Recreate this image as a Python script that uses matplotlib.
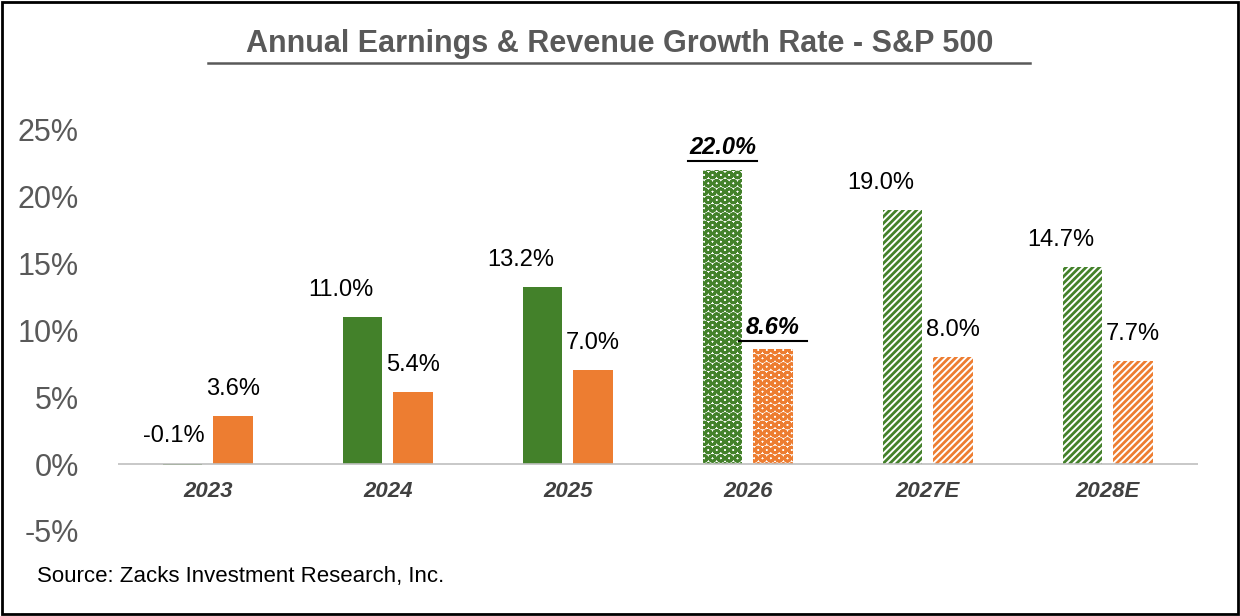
import matplotlib.pyplot as plt
import numpy as np

years = ["2023", "2024", "2025", "2026", "2027E", "2028E"]
earnings = [-0.1, 11.0, 13.2, 22.0, 19.0, 14.7]
revenue = [3.6, 5.4, 7.0, 8.6, 8.0, 7.7]
yticks = [-5, 0, 5, 10, 15, 20, 25]

green = "#43812A"
orange = "#ED7D31"
plt.rcParams['font.family'] = ['Liberation Sans', 'DejaVu Sans']
plt.rcParams['hatch.linewidth'] = 2.0

fig = plt.figure(figsize=(12.4, 6.16), dpi=100)
ax = fig.add_axes([0.095, 0.138, 0.871, 0.652])
x = np.arange(len(years))
w = 0.22
off = 0.14
for i, y in enumerate(years):
    for val, c, dx in [(earnings[i], green, -off), (revenue[i], orange, off)]:
        if i < 3:
            ax.bar(x[i] + dx, val, w, color=c, edgecolor='none')
        elif i == 3:
            ax.bar(x[i] + dx, val, w, facecolor='white', edgecolor=c, hatch='OO', linewidth=0)
        else:
            ax.bar(x[i] + dx, val, w, facecolor='white', edgecolor=c, hatch='/////', linewidth=0)
        lbl = f"{val:.1f}%"
        if i == 3:
            ax.text(x[i] + dx, val + 0.75, lbl, ha='center', va='bottom', fontsize=17,
                    fontweight='bold', style='italic')
            ax.plot([x[i] + dx - 0.19, x[i] + dx + 0.19], [val + 0.6, val + 0.6],
                    color='black', lw=1.5, clip_on=False)
        elif i == 0 and val < 0:
            ax.text(x[i] + dx - 0.05, 1.3, lbl, ha='center', va='bottom', fontsize=17)
        else:
            ax.text(x[i] + dx - (0.12 if dx < 0 else 0.0), val + 1.2, lbl, ha='center',
                    va='bottom', fontsize=17)

ax.set_xlim(-0.5, len(years) - 0.5)
ax.set_ylim(-5, 25)
ax.set_yticks(yticks)
ax.set_yticklabels([f"{t}%" for t in yticks], fontsize=22, color='#595959')
ax.set_xticks([])
for i, y in enumerate(years):
    ax.text(x[i], -1.3, y, ha='center', va='top', fontsize=16, fontweight='bold',
            style='italic', color='#404040')
ax.axhline(0, color='#BFBFBF', lw=1.2)
for s in ax.spines.values():
    s.set_visible(False)
ax.tick_params(length=0, pad=28)

fig.text(0.5, 0.915, "Annual Earnings & Revenue Growth Rate - S&P 500", ha='center',
         fontsize=22, fontweight='bold', color='#595959')
fig.add_artist(plt.Line2D([0.168, 0.831], [0.898, 0.898], color='#595959', lw=1.8))
fig.text(0.03, 0.055, "Source: Zacks Investment Research, Inc.", fontsize=16)
fig.add_artist(plt.Rectangle((0.002, 0.003), 0.996, 0.994, fill=False, lw=2, color='black',
                             transform=fig.transFigure))
fig.savefig("out.png", dpi=100)
